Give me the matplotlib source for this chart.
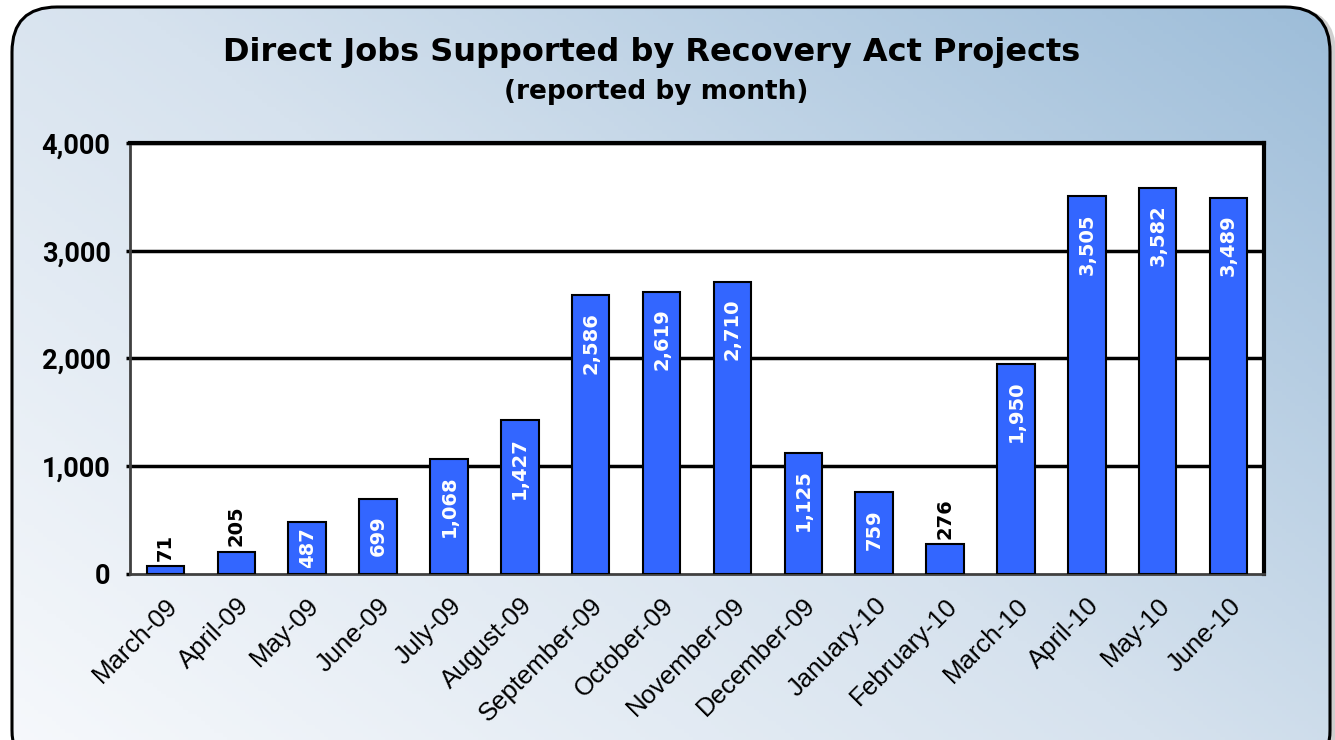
import numpy as np
import matplotlib.pyplot as plt
from matplotlib.patches import FancyBboxPatch
from matplotlib.colors import LinearSegmentedColormap

months = ["March-09", "April-09", "May-09", "June-09", "July-09", "August-09",
          "September-09", "October-09", "November-09", "December-09",
          "January-10", "February-10", "March-10", "April-10", "May-10", "June-10"]
jobs = [71, 205, 487, 699, 1068, 1427, 2586, 2619, 2710, 1125, 759, 276,
        1950, 3505, 3582, 3489]
yticks = [0, 1000, 2000, 3000, 4000]

W, H = 1335, 740
fig = plt.figure(figsize=(W / 100, H / 100), dpi=100)
fig.patch.set_facecolor("white")

# background panel with gradient (figure pixel coords)
bg = fig.add_axes([0, 0, 1, 1], zorder=0)
bg.set_xlim(0, W)
bg.set_ylim(0, H)
bg.axis("off")

shadow = FancyBboxPatch((18, -40), 1318, 772, boxstyle="round,pad=0,rounding_size=45",
                        fc="#b0b0b0", ec="none", alpha=0.6)
bg.add_patch(shadow)
box = FancyBboxPatch((12, -35), 1318, 768, boxstyle="round,pad=0,rounding_size=45",
                     fc="none", ec="black", lw=2.2, zorder=3)
bg.add_patch(box)

cmap = LinearSegmentedColormap.from_list("bgfade", ["#f7f9fc", "#d6e2ee", "#9dbdd9"])
xx, yy = np.meshgrid(np.linspace(0, 1, 300), np.linspace(0, 1, 200))
grad = 0.55 * xx + 0.45 * yy
im = bg.imshow(grad, extent=[12, 1330, -35, 733], origin="lower", cmap=cmap,
               aspect="auto", zorder=1)
im.set_clip_path(box)
bg.set_xlim(0, W)
bg.set_ylim(0, H)

fig.text(652 / W, 1 - 52 / H, "Direct Jobs Supported by Recovery Act Projects",
         ha="center", va="center", fontsize=23, fontweight="bold", family="DejaVu Sans")
fig.text(656 / W, 1 - 92 / H, "(reported by month)",
         ha="center", va="center", fontsize=19, fontweight="bold", family="DejaVu Sans")

# plot area
left, right, top, bottom = 130, 1264, 143, 574
ax = fig.add_axes([left / W, 1 - bottom / H, (right - left) / W, (bottom - top) / H], zorder=2)
ax.set_facecolor("white")

x = np.arange(len(months))
ax.bar(x, jobs, width=0.53, color="#3366ff", edgecolor="black", linewidth=1.5, zorder=3)
for yv in yticks[1:]:
    ax.axhline(yv, color="black", lw=2.5, zorder=2)

ax.set_xlim(-0.5, len(months) - 0.5)
ax.set_ylim(0, 4000)
ax.set_yticks(yticks)
ax.set_yticklabels([f"{v:,}" for v in yticks], fontsize=19.5, fontweight="bold",
                   family="Roboto")
ax.set_xticks(x)
ax.set_xticklabels(months, rotation=45, ha="right", rotation_mode="anchor",
                   fontsize=18.5, family="Liberation Sans")
ax.tick_params(axis="y", length=3, width=2.5, pad=11)
ax.tick_params(axis="x", length=0, pad=14)

for s in ["top", "right"]:
    ax.spines[s].set_linewidth(3)
    ax.spines[s].set_color("black")
for s in ["left", "bottom"]:
    ax.spines[s].set_linewidth(2)
    ax.spines[s].set_color("#404040")

# value labels: above short bars, inside the others
lab_kw = dict(textcoords="offset points", rotation=90, ha="center", fontsize=14,
              fontweight="bold", family="DejaVu Sans", zorder=4)
for xi, v in zip(x, jobs):
    lab = f"{v:,}"
    if v < 400:
        ax.annotate(lab, (xi, v), xytext=(0, 4), va="bottom", color="black", **lab_kw)
    elif v < 600:
        ax.annotate(lab, (xi, 0), xytext=(0, 4), va="bottom", color="white", **lab_kw)
    else:
        ax.annotate(lab, (xi, v), xytext=(0, -12), va="top", color="white", **lab_kw)

fig.savefig("out.png", dpi=100)
